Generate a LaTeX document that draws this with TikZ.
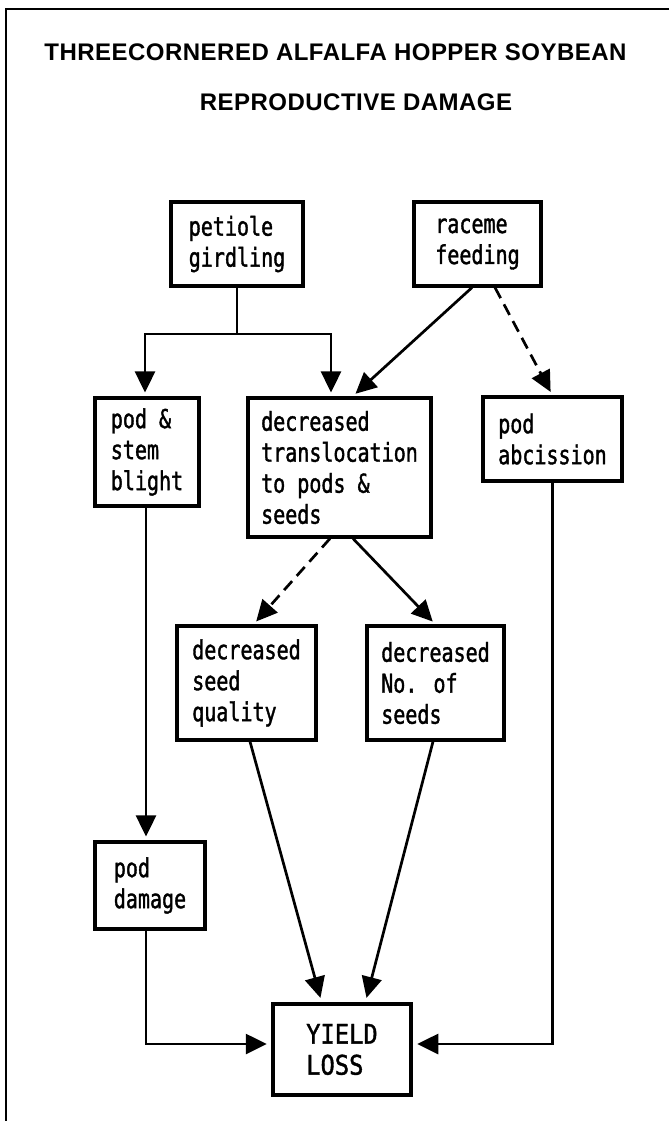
\documentclass[tikz,border=0pt]{standalone}
\usepackage{fontspec}
\usetikzlibrary{arrows.meta}
\newfontfamily\labfam{DejaVu Sans Mono}[FakeStretch=0.77,FakeBold=1.4]
\newfontfamily\yldfam{DejaVu Sans Mono}[FakeStretch=0.88,FakeBold=1.4]
\newfontfamily\titfam{Liberation Sans}[LetterSpace=2]
\begin{document}
\begin{tikzpicture}[x=1pt,y=-1pt,
  box/.style={draw, line width=3.1pt, inner sep=0pt, align=left,
    font=\labfam\fontsize{26}{31}\selectfont},
  titlebox/.style={inner sep=0pt, font=\titfam\bfseries\fontsize{24}{28}\selectfont},
  arr/.style={-{Triangle[length=21pt,width=20pt]}, line width=2.7pt, shorten >=4pt},
  dsh/.style={arr, dash pattern=on 12pt off 7pt}]
\fill[white] (0,0) rectangle (669,1121);
\useasboundingbox (0,0) rectangle (669,1121);
% frame
\draw[line width=2.8pt] (669,9) -- (6,9) -- (6,1121);
% title
\node[titlebox] (t1) at (335.5,52) {THREECORNERED ALFALFA HOPPER SOYBEAN};
\node[titlebox] (t2) at (356,102) {REPRODUCTIVE DAMAGE};
% boxes
\node[box, minimum width=132pt, minimum height=84pt] (pet) at (237,244) {petiole\\girdling};
\node[box, minimum width=127pt, minimum height=84pt] (rac) at (477.5,244) {raceme\\feeding};
\node[box, minimum width=104pt, minimum height=108pt] (stem) at (147,452) {pod \&\\stem\\blight};
\node[box, minimum width=183pt, minimum height=139pt] (trans) at (339.5,467.5) {decreased\\translocation\\to pods \&\\seeds};
\node[box, minimum width=139pt, minimum height=84pt] (abc) at (552.5,439) {pod\\abcission};
\node[box, minimum width=139pt, minimum height=114pt] (sq) at (246.5,683) {decreased\\seed\\quality};
\node[box, minimum width=137pt, minimum height=114pt] (ns) at (435.5,683) {decreased\\No. of\\seeds};
\node[box, minimum width=110pt, minimum height=87pt] (dam) at (150,885.5) {pod\\damage};
\node[box, line width=4.5pt, minimum width=138pt, minimum height=91pt,
  font=\yldfam\fontsize{27}{31}\selectfont] (yl) at (342,1049.5) {YIELD\\LOSS};
% junction points
\coordinate (jL) at (145,334);
\coordinate (jR) at (331,334);
% connectors
\draw[arr] (pet.south) |- (jL) -- (jL |- stem.north);
\draw[arr] (pet.south) |- (jR) -- (jR |- trans.north);
\draw[arr] ([xshift=-5.5pt]rac.south) -- ([xshift=13pt]trans.north);
\draw[dsh] ([xshift=17.5pt]rac.south) -- (abc.north);
\draw[dsh] ([xshift=-9.5pt]trans.south) -- ([xshift=7pt]sq.north);
\draw[arr] ([xshift=13.5pt]trans.south) -- (ns.north);
\draw[arr] ([xshift=-1pt]stem.south) -- ([xshift=-1pt]stem.south |- dam.north);
\draw[arr] ([xshift=-4pt]dam.south) |- ([yshift=5.5pt]yl.west);
\draw[arr] ([xshift=3.5pt]sq.south) -- ([xshift=-20.5pt]yl.north);
\draw[arr] ([xshift=-2.5pt]ns.south) -- ([xshift=23.5pt]yl.north);
\draw[arr] (abc.south) |- ([yshift=5.5pt]yl.east);
\end{tikzpicture}
\end{document}
